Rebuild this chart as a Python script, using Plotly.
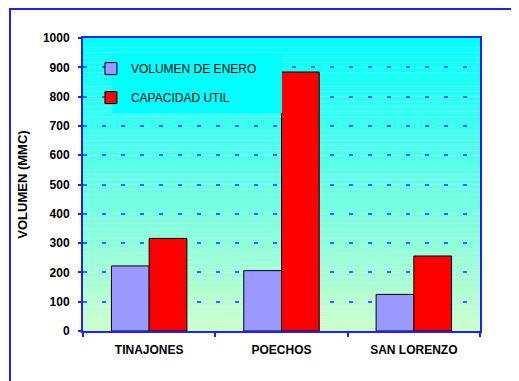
import plotly.graph_objects as go

FONT = "Liberation Sans, Arial, sans-serif"
BLUE_LINE = "#1f1fff"

# data
embalses = ["TINAJONES", "POECHOS", "SAN LORENZO"]
volumen_enero = [222, 206, 125]
capacidad_util = [316, 884, 256]
y_ticks = [0, 100, 200, 300, 400, 500, 600, 700, 800, 900, 1000]

# page body has an 8px margin, so the figure is shifted by that amount
OFF = 8
L, T, PW, PH = 83 - OFF, 38 - OFF, 397, 293

fig = go.Figure()
fig.add_trace(go.Bar(x=embalses, y=volumen_enero, name="VOLUMEN DE ENERO",
                     marker=dict(color="#9999ff", line=dict(color="black", width=1)),
                     legendgroup="a"))
fig.add_trace(go.Bar(x=embalses, y=capacidad_util, name="CAPACIDAD UTIL",
                     marker=dict(color="#ff0000", line=dict(color="black", width=1)),
                     legendgroup="b"))

# gradient background of the plot area (cyan at top -> pale green at bottom)
shapes = []
n_bands = 60
top, bottom = (0, 255, 255), (204, 255, 204)
for i in range(n_bands):
    t = (i + 0.5) / n_bands
    c = tuple(round(bottom[k] + (top[k] - bottom[k]) * t) for k in range(3))
    shapes.append(dict(type="rect", xref="paper", yref="paper", x0=0, x1=1,
                       y0=i / n_bands, y1=(i + 1) / n_bands, layer="below",
                       line=dict(width=0), fillcolor="rgb(%d,%d,%d)" % c))
# legend box
shapes.append(dict(type="rect", xref="paper", yref="paper",
                   x0=(112 - 83) / PW, x1=(282 - 83) / PW,
                   y0=(331 - 113) / PH, y1=(331 - 54) / PH,
                   layer="above", line=dict(width=0), fillcolor="#00ffff"))
# outer frame
shapes.append(dict(type="rect", xref="paper", yref="paper",
                   x0=(10 - 83) / PW, x1=1.2, y0=-0.3, y1=(331 - 9) / PH,
                   line=dict(color=BLUE_LINE, width=2)))

fig.update_layout(
    width=519 - OFF, height=381 - OFF,
    margin=dict(l=L, r=519 - OFF - L - PW, t=T, b=381 - OFF - T - PH),
    paper_bgcolor="white", plot_bgcolor="rgba(0,0,0,0)",
    barmode="group", bargap=0.43, bargroupgap=0,
    font=dict(family=FONT, size=12, color="black"),
    shapes=shapes,
    legend=dict(x=0.02, y=0.945, xanchor="left", yanchor="top",
                bgcolor="rgba(0,0,0,0)", font=dict(size=12),
                traceorder="grouped", tracegroupgap=10, itemwidth=30),
    showlegend=True,
)
fig.update_xaxes(showline=True, linecolor=BLUE_LINE, linewidth=2, mirror=True,
                 ticks="outside", tickson="boundaries", ticklen=4, tickcolor=BLUE_LINE,
                 tickwidth=1.5, tickfont=dict(size=12, weight="bold"),
                 ticklabelstandoff=7, automargin=False)
fig.update_yaxes(range=[0, 1000], tickvals=y_ticks, showline=True, linecolor=BLUE_LINE,
                 linewidth=2, mirror=True, ticks="outside", ticklen=3, tickcolor=BLUE_LINE,
                 tickwidth=1.5, tickfont=dict(size=12, weight="bold"), ticklabelstandoff=6,
                 showgrid=True, gridcolor="#3366ff", gridwidth=1.5, griddash="4px,15px",
                 zeroline=False, automargin=False,
                 title=dict(text="VOLUMEN (MMC)", font=dict(size=13, weight="bold"),
                            standoff=12))

fig.write_html("out.html")
